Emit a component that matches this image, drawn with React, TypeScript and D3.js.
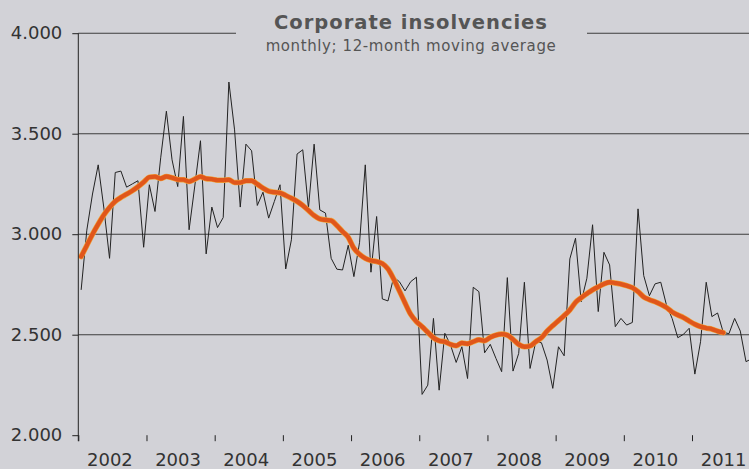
import React, { useEffect, useRef } from "react";
import * as d3 from "d3";

// monthly corporate insolvencies, Jan 2002 onwards
const monthly = [
  2723, 3020, 3200, 3345, 3130, 2880, 3307, 3314, 3234, 3250, 3266, 2935,
  3246, 3113, 3380, 3612, 3370, 3237, 3586, 3022, 3240, 3465, 2902, 3135,
  3033, 3083, 3757, 3519, 3135, 3448, 3415, 3143, 3209, 3080, 3163, 3246,
  2827, 2972, 3399, 3420, 3130, 3448, 3121, 3105, 2880, 2826, 2822, 2945,
  2789, 2960, 3345, 2811, 3088, 2678, 2668, 2786, 2764, 2718, 2764, 2786,
  2203, 2249, 2581, 2224, 2507, 2449, 2362, 2440, 2282, 2736, 2714, 2410,
  2452, 2382, 2316, 2784, 2319, 2407, 2761, 2332, 2465, 2460, 2374, 2233,
  2440, 2395, 2877, 2980, 2664, 2781, 3047, 2615, 2910, 2847, 2540, 2581,
  2548, 2561, 3126, 2794, 2694, 2753, 2761, 2648, 2581, 2485, 2502, 2532,
  2304, 2465, 2761, 2590, 2608, 2512, 2505, 2581, 2518, 2366, 2380,
];

// 12-month moving average
const movingAvg = [
  2889, 2944, 3000, 3050, 3096, 3133, 3163, 3183, 3199, 3216, 3236, 3259,
  3284, 3286, 3277, 3287, 3281, 3272, 3271, 3262, 3274, 3286, 3276, 3274,
  3269, 3269, 3271, 3257, 3257, 3266, 3266, 3249, 3229, 3214, 3209, 3206,
  3193, 3179, 3163, 3143, 3118, 3093, 3076, 3071, 3068, 3043, 3013, 2985,
  2930, 2900, 2880, 2869, 2864, 2854, 2827, 2777, 2718, 2658, 2601, 2565,
  2540, 2512, 2485, 2470, 2465, 2452, 2445, 2459, 2455, 2465, 2475, 2470,
  2487, 2498, 2503, 2498, 2477, 2452, 2440, 2444, 2465, 2485, 2518, 2545,
  2570, 2595, 2623, 2661, 2684, 2704, 2723, 2738, 2752, 2761, 2757, 2752,
  2744, 2734, 2714, 2688, 2674, 2664, 2651, 2635, 2613, 2598, 2585, 2568,
  2552, 2540, 2533, 2528, 2518, 2510,
];

const years = [2002, 2003, 2004, 2005, 2006, 2007, 2008, 2009, 2010, 2011];
const yTicks = [2000, 2500, 3000, 3500, 4000];

const title = "Corporate insolvencies";
const subtitle = "monthly; 12-month moving average";

const App = () => {
  const svgRef = useRef<SVGSVGElement>(null);

  useEffect(() => {
    const width = 749;
    const height = 469;
    const left = 78.3;
    const bg = "#d2d2d7";
    const font = "DejaVu Sans, Verdana, sans-serif";

    const x = d3
      .scaleLinear()
      .domain([years[0], years[0] + 10])
      .range([left, left + 10 * 68.19]);
    const y = d3.scaleLinear().domain([2000, 4000]).range([435.2, 33.2]);

    const svg = d3.select(svgRef.current);
    svg.selectAll("*").remove();

    svg
      .append("rect")
      .attr("width", width)
      .attr("height", height)
      .attr("fill", bg);

    // grid
    svg
      .selectAll(".grid")
      .data(yTicks.slice(1))
      .enter()
      .append("line")
      .attr("x1", left)
      .attr("x2", width)
      .attr("y1", (d) => y(d))
      .attr("y2", (d) => y(d))
      .attr("stroke", "#3c3c3c")
      .attr("stroke-width", 1.1);

    // title box covers the top gridline
    svg
      .append("rect")
      .attr("x", 236)
      .attr("y", 20)
      .attr("width", 351)
      .attr("height", 40)
      .attr("fill", bg);

    const t = (i: number) => x(years[0] + (i + 0.5) / 12);

    const rawLine = d3
      .line<number>()
      .x((d, i) => t(i))
      .y((d) => y(d));

    svg
      .append("path")
      .datum(monthly)
      .attr("fill", "none")
      .attr("stroke", "#222")
      .attr("stroke-width", 1)
      .attr("d", rawLine);

    const smooth = d3
      .line<number>()
      .x((d, i) => t(i))
      .y((d) => y(d))
      .curve(d3.curveMonotoneX);

    svg
      .append("path")
      .datum(movingAvg)
      .attr("fill", "none")
      .attr("stroke", "#f2a33a")
      .attr("stroke-width", 5.5)
      .attr("stroke-linecap", "round")
      .attr("d", smooth);

    svg
      .append("path")
      .datum(movingAvg)
      .attr("fill", "none")
      .attr("stroke", "#e0561b")
      .attr("stroke-width", 4.3)
      .attr("stroke-linecap", "round")
      .attr("d", smooth);

    // y axis
    const yAxis = svg
      .append("g")
      .attr("transform", `translate(${left},0)`)
      .call(
        d3
          .axisLeft(y)
          .tickValues(yTicks)
          .tickSize(6)
          .tickPadding(10)
          .tickFormat((d) => d3.format(",")(d as number).replace(",", "."))
      );
    yAxis
      .select(".domain")
      .attr("stroke", "#222")
      .attr("d", `M0,${y(4000)}V${y(2000) + 6}`);
    yAxis.selectAll(".tick line").attr("stroke", "#222");
    yAxis
      .selectAll("text")
      .attr("fill", "#333")
      .style("font-family", font)
      .style("font-size", "18px");

    // x axis
    const xAxis = svg
      .append("g")
      .attr("transform", `translate(0,${y(2000)})`)
      .call(d3.axisBottom(x).tickValues(years).tickSize(6).tickFormat(() => ""));
    xAxis.select(".domain").remove();
    xAxis.selectAll(".tick line").attr("stroke", "#222");

    svg
      .selectAll(".year")
      .data(years)
      .enter()
      .append("text")
      .attr("x", (d) => x(d + 0.5) - 2.5)
      .attr("y", 466)
      .attr("text-anchor", "middle")
      .attr("fill", "#333")
      .style("font-family", font)
      .style("font-size", "18px")
      .text((d) => d);

    svg
      .append("text")
      .attr("x", 411)
      .attr("y", 28.5)
      .attr("text-anchor", "middle")
      .attr("fill", "#555")
      .style("font-family", font)
      .style("font-weight", "bold")
      .style("font-size", "19.5px")
      .style("letter-spacing", "1px")
      .text(title);

    svg
      .append("text")
      .attr("x", 411)
      .attr("y", 50.5)
      .attr("text-anchor", "middle")
      .attr("fill", "#555")
      .style("font-family", font)
      .style("font-size", "15px")
      .style("letter-spacing", "0.6px")
      .text(subtitle);
  }, []);

  return (
    <svg
      ref={svgRef}
      width={749}
      height={469}
      style={{ position: "absolute", left: 0, top: 0 }}
    ></svg>
  );
};

export default App;
